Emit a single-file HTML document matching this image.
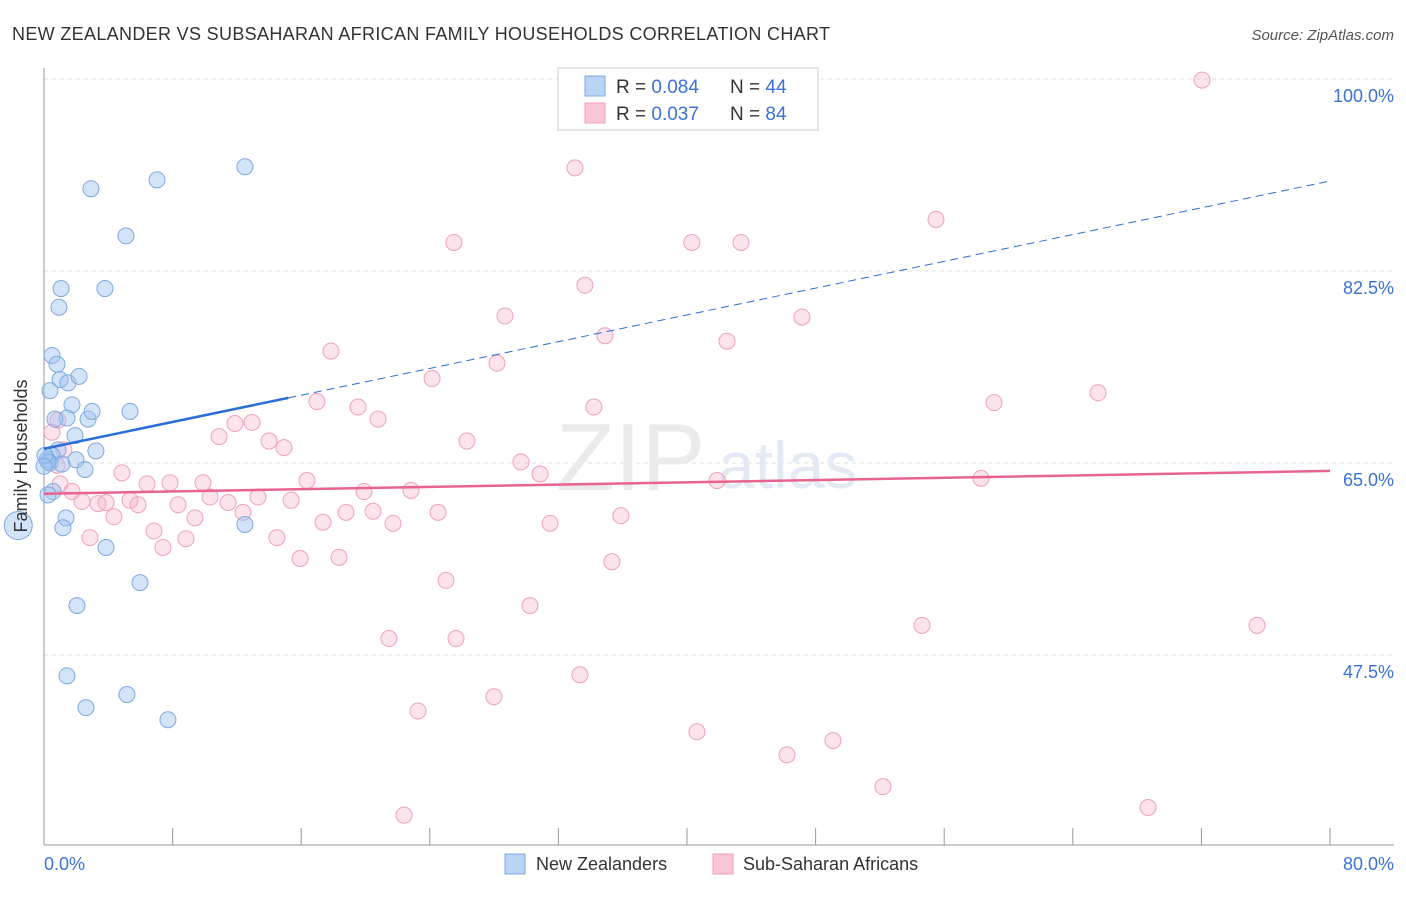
<!DOCTYPE html>
<html><head><meta charset="utf-8"><style>
body{margin:0;background:#fff;font-family:"Liberation Sans",sans-serif;}
svg text{font-family:"Liberation Sans",sans-serif;}
</style></head><body>
<svg id="chart" width="1406" height="892" xmlns="http://www.w3.org/2000/svg">
<text x="12" y="40" font-size="18" fill="#333" textLength="818">NEW ZEALANDER VS SUBSAHARAN AFRICAN FAMILY HOUSEHOLDS CORRELATION CHART</text>
<text x="1394" y="40" font-size="15" fill="#555" text-anchor="end" font-style="italic">Source: ZipAtlas.com</text>
<g id="grid"></g>
<text x="556" y="490" font-size="96" fill="#ebebeb" font-family="Liberation Serif">ZIP</text>
<text x="718" y="488" font-size="66" fill="#e3eaf5">atlas</text>
<g id="pts"></g>
<g id="trends"></g>
<text x="27" y="456" font-size="18" fill="#333" text-anchor="middle" transform="rotate(-90 27 456)">Family Households</text>
<text x="44" y="870" font-size="18" fill="#3b72d9">0.0%</text>
<text x="1394" y="870" font-size="18" fill="#3b72d9" text-anchor="end">80.0%</text>
<g>
<rect x="558" y="68" width="260" height="62" fill="#fff" stroke="#ccc"/>
<rect x="585" y="76" width="20" height="20" fill="#b9d3f5" stroke="#7fa9e0"/>
<rect x="585" y="103" width="20" height="20" fill="#f9c6d6" stroke="#f0a0bc"/>
<text x="616" y="93" font-size="19" fill="#333">R = <tspan fill="#3b72d9">0.084</tspan></text>
<text x="730" y="93" font-size="19" fill="#333">N = <tspan fill="#3b72d9">44</tspan></text>
<text x="616" y="120" font-size="19" fill="#333">R = <tspan fill="#3b72d9">0.037</tspan></text>
<text x="730" y="120" font-size="19" fill="#333">N = <tspan fill="#3b72d9">84</tspan></text>
</g>
<g>
<rect x="505" y="854" width="20" height="20" fill="#b9d3f5" stroke="#7fa9e0"/>
<text x="536" y="870" font-size="18" fill="#333">New Zealanders</text>
<rect x="713" y="854" width="20" height="20" fill="#f9c6d6" stroke="#f0a0bc"/>
<text x="743" y="870" font-size="18" fill="#333">Sub-Saharan Africans</text>
</g>
</svg>
<script>
const yTicks=[100,82.5,65,47.5];
const yTickLabels=["100.0%","82.5%","65.0%","47.5%"];
const xTicks=[0,8,16,24,32,40,48,56,64,72,80];
const blueX=[.5,.81,.37,1,1.49,2.18,1.74,1.43,2.74,2.99,5.35,1.93,.87,.5,.19,.37,1.12,1.99,2.55,3.23,.56,.25,1.37,1.18,-1.6,3.86,2.05,5.97,1.43,5.16,2.61,7.71,12.5,1.06,3.79,.93,5.1,2.92,7.03,12.5,.68,.25,.06,0];
const blueY=[74.8,74,71.6,72.6,72.3,72.9,70.3,69.1,69,69.7,69.7,67.5,66.2,65.7,65.3,65,64.9,65.3,64.4,66.1,62.4,62.1,60,59.1,59.3,57.3,52,54.1,45.6,43.9,42.7,41.6,59.4,80.9,80.9,79.2,85.7,90,90.8,92,69,65.1,65.7,64.7];
const pinkX=[72.04,33.03,55.49,25.5,40.3,43.36,33.65,28.68,47.15,34.9,42.49,17.85,28.18,24.14,65.57,16.98,19.53,34.21,59.1,20.78,11.88,12.94,10.89,14,14.93,26.31,.87,.5,1.24,.81,29.67,30.86,4.85,6.41,7.84,9.89,16.36,41.87,58.29,1,1.74,2.36,3.36,3.86,5.35,5.85,8.34,10.33,11.45,13.31,15.37,19.91,22.83,4.35,9.39,12.38,18.79,20.47,24.51,21.71,17.36,31.48,35.89,6.84,2.86,8.83,7.4,14.49,15.93,18.35,35.33,25.01,30.23,21.46,25.63,54.62,75.46,33.34,27.99,23.27,40.62,46.22,49.08,52.19,68.68,22.4];
const pinkY=[99.9,91.9,87.2,85.1,85.1,85.1,81.2,78.4,78.3,76.6,76.1,75.2,74.1,72.7,71.4,70.6,70.1,70.1,70.5,69,68.6,68.7,67.4,67,66.4,67,68.9,67.8,66.2,64.8,65.1,64,64.1,63.1,63.2,63.2,63.4,63.4,63.6,63.1,62.4,61.5,61.3,61.4,61.6,61.2,61.2,61.9,61.4,61.9,61.6,62.4,62.5,60.1,60,60.5,60.5,60.6,60.5,59.5,59.6,59.5,60.2,58.8,58.2,58.1,57.3,58.2,56.3,56.4,56,54.3,52,49,49,50.2,50.2,45.7,43.7,42.4,40.5,38.4,39.7,35.5,33.6,32.9];
const blueTrend=[66.3,0.305];
const pinkTrend=[62.2,0.026];
const NS="http://www.w3.org/2000/svg";
const sx=v=>44+v*1286/80, sy=v=>79+(100-v)*192/17.5;
function mk(t,a,p){const e=document.createElementNS(NS,t);for(const k in a)e.setAttribute(k,a[k]);p.appendChild(e);return e;}
const grid=document.getElementById('grid');
yTicks.forEach((v,i)=>{
 const l=mk('line',{x1:44,x2:1394,y1:sy(v),y2:sy(v),stroke:'#ddd','stroke-dasharray':'4,4'},grid);
 
 
 const t=mk('text',{x:1394,y:sy(v)+23,'font-size':18,fill:'#3b72d9','text-anchor':'end'},grid);
 t.textContent=yTickLabels[i];
 
 
});
mk('line',{x1:44,x2:44,y1:68,y2:845,stroke:'#999'},grid);
mk('line',{x1:44,x2:1394,y1:845,y2:845,stroke:'#999'},grid);
xTicks.forEach(v=>{
 const l=mk('line',{x1:sx(v),x2:sx(v),y1:828,y2:845,stroke:'#999'},grid);
 
 
});
const pts=document.getElementById('pts');
pinkX.forEach((x,i)=>{
 const c=mk('circle',{cx:sx(x),cy:sy(pinkY[i]),r:8,fill:'rgba(246,176,200,0.35)',stroke:'#f0a0bc','stroke-width':1},pts);
 
 
});
blueX.forEach((x,i)=>{
 const c=mk('circle',{cx:sx(x),cy:sy(blueY[i]),r:(x<0?14:8),fill:'rgba(160,196,240,0.45)',stroke:'#7fa9e0','stroke-width':1},pts);
 
 
});
const tr=document.getElementById('trends');
const bl=x=>blueTrend[0]+blueTrend[1]*x, pl=x=>pinkTrend[0]+pinkTrend[1]*x;
const b1=mk('line',{x1:sx(0),y1:sy(bl(0)),x2:sx(15.2),y2:sy(bl(15.2)),stroke:'#2a6fd6','stroke-width':2.5},tr);


const b2=mk('line',{x1:sx(15.2),y1:sy(bl(15.2)),x2:sx(80),y2:sy(bl(80)),stroke:'#2a6fd6','stroke-width':1,'stroke-dasharray':'8,5'},tr);


const p1=mk('line',{x1:sx(0),y1:sy(pl(0)),x2:sx(80),y2:sy(pl(80)),stroke:'#e8648f','stroke-width':2.5},tr);


</script>
</body></html>
